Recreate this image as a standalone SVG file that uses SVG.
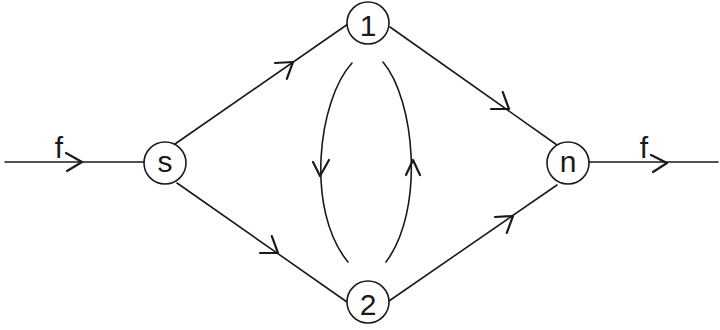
<svg xmlns="http://www.w3.org/2000/svg" width="720" height="330" viewBox="0 0 720 330">
<style>
.e{fill:none;stroke:#1a1a1a;stroke-width:1.6;stroke-linecap:round;stroke-linejoin:round}
.h{fill:none;stroke:#1a1a1a;stroke-width:2.2;stroke-linecap:round;stroke-linejoin:round}
.n{fill:#fff;stroke:#1a1a1a;stroke-width:1.6}
.t{font-family:"Liberation Sans","DejaVu Sans",sans-serif;font-size:30px;fill:#1a1a1a;text-anchor:middle}
</style>
<rect width="720" height="330" fill="#fff"/>
<g id="connectors">
  <line class="e" x1="5" y1="162" x2="144" y2="162"/>
  <path class="h" d="M66,153 L82,162 L67,171"/>
  <line class="e" x1="589" y1="162" x2="718" y2="162"/>
  <path class="h" d="M651,155 L667,163 L653,172"/>
  <line class="e" x1="175" y1="144" x2="348" y2="24"/>
  <path class="h" d="M275,63 L293,62 L286.8,78.9"/>
  <line class="e" x1="390" y1="27" x2="557" y2="145"/>
  <path class="h" d="M502.8,92.1 L509,109 L491,109"/>
  <line class="e" x1="177" y1="183" x2="347" y2="302"/>
  <path class="h" d="M271.8,236.1 L278,253 L260,253"/>
  <line class="e" x1="389" y1="301" x2="557" y2="185"/>
  <path class="h" d="M495,217 L513,216 L506.8,232.9"/>
  <path class="e" d="M352,63 C318,100 305,210 348,262"/>
  <path class="h" d="M313,162 L320,176 L329,160"/>
  <path class="e" d="M383,62 C415,100 425,210 386,262"/>
  <path class="h" d="M406,175 L413,160 L420,175"/>
  <text class="t" x="59" y="158">f</text>
  <text class="t" x="644" y="158">f</text>
</g>
<g id="node-s">
  <circle class="n" cx="165" cy="163" r="21"/>
  <text class="t" x="165" y="172">s</text>
</g>
<g id="node-1">
  <circle class="n" cx="368" cy="23" r="21"/>
  <text class="t" x="368" y="36">1</text>
</g>
<g id="node-2">
  <circle class="n" cx="368" cy="302" r="21"/>
  <text class="t" x="368" y="315">2</text>
</g>
<g id="node-n">
  <circle class="n" cx="568" cy="163" r="21"/>
  <text class="t" x="568" y="172">n</text>
</g>
</svg>
